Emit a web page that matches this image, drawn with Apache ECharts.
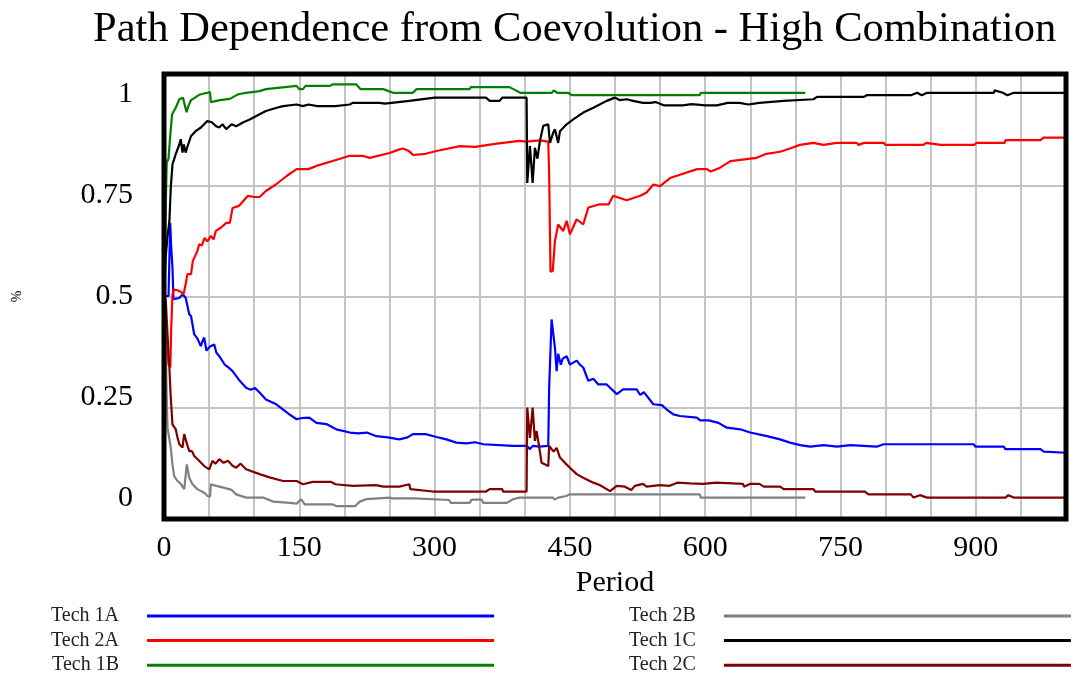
<!DOCTYPE html>
<html>
<head>
<meta charset="utf-8">
<title>Path Dependence from Coevolution - High Combination</title>
<script src="https://cdn.jsdelivr.net/npm/echarts@6/dist/echarts.min.js"></script>
<style>
  html, body { margin: 0; padding: 0; background: #fff; }
  #chart { width: 1073px; height: 679px; }
</style>
</head>
<body>
<div id="chart"></div>
<script>
// Market shares per period, [period, share]
const tech1A = [[0,0.5],[5,0.5],[6.9,0.681],[8,0.62],[9.4,0.57],[10.5,0.492],[17,0.495],[20.5,0.504],[24,0.496],[28,0.455],[30,0.45],[33.5,0.405],[37,0.395],[40.8,0.376],[43,0.39],[44.6,0.397],[47,0.365],[51,0.375],[55.7,0.38],[58,0.36],[61.3,0.351],[67,0.331],[72,0.322],[76,0.314],[84,0.29],[91,0.273],[96,0.268],[101,0.272],[106,0.261],[113,0.244],[124.5,0.232],[139,0.207],[147,0.195],[153,0.198],[161,0.199],[169,0.186],[180,0.183],[191,0.17],[206,0.162],[215,0.16],[225,0.162],[235.5,0.153],[248,0.15],[261,0.145],[263,0.143],[270,0.15],[276,0.158],[290,0.158],[302,0.151],[313,0.145],[324,0.137],[335,0.135],[345,0.138],[354,0.133],[387,0.129],[402,0.129],[405.7,0.121],[409,0.129],[416,0.127],[426,0.129],[427,0.273],[429.7,0.442],[431.5,0.446],[433.4,0.372],[435.3,0.314],[437,0.357],[440,0.33],[442,0.345],[446.4,0.351],[450,0.33],[457.5,0.34],[461,0.33],[464.8,0.323],[470.4,0.29],[476,0.295],[481.5,0.281],[490.8,0.281],[502,0.257],[509,0.269],[524,0.269],[528,0.255],[532,0.262],[542.5,0.232],[552,0.23],[557.4,0.219],[564.7,0.207],[572,0.203],[590.7,0.199],[594.4,0.192],[604,0.192],[614.7,0.186],[624,0.174],[638.8,0.17],[649.9,0.162],[668.4,0.153],[683,0.145],[694,0.137],[705.3,0.131],[716.4,0.127],[731.2,0.131],[746,0.127],[761,0.131],[790,0.127],[797.8,0.133],[897.7,0.133],[899.6,0.127],[931,0.127],[932.8,0.121],[971.7,0.121],[975.4,0.115],[1000,0.112]];

const tech2A = [[0,0.5],[2,0.5],[5,0.33],[7,0.323],[8,0.42],[9.4,0.504],[11,0.516],[15,0.514],[19,0.51],[21.6,0.504],[24,0.529],[26,0.554],[30,0.554],[32,0.587],[37,0.611],[39,0.628],[42,0.625],[45,0.644],[48,0.635],[52,0.649],[55,0.64],[57.5,0.661],[63,0.669],[69,0.681],[73,0.681],[76,0.718],[83,0.723],[93,0.748],[100,0.745],[106,0.745],[113,0.76],[124,0.776],[136,0.797],[147,0.814],[160,0.814],[169,0.822],[187,0.834],[206,0.847],[220,0.847],[228,0.842],[250,0.854],[261,0.863],[265,0.865],[272,0.858],[276,0.849],[290,0.852],[302,0.859],[328,0.871],[345,0.869],[369,0.877],[394,0.884],[402,0.882],[410,0.884],[417,0.885],[426,0.882],[427,0.8],[428.5,0.56],[431,0.562],[433.4,0.636],[437,0.677],[442.6,0.661],[446.4,0.686],[450,0.653],[457.5,0.69],[464.8,0.677],[470.4,0.719],[483,0.727],[493,0.727],[498,0.748],[513,0.737],[528,0.748],[535,0.756],[542.5,0.776],[550,0.772],[561,0.792],[572,0.8],[591,0.814],[602,0.814],[606,0.808],[616,0.817],[628,0.834],[657,0.842],[668,0.852],[683,0.857],[694,0.865],[705,0.874],[720,0.879],[731,0.874],[746,0.879],[768,0.879],[770,0.874],[776,0.879],[798,0.879],[800,0.874],[842,0.874],[845,0.879],[861,0.874],[898,0.874],[901,0.879],[932,0.879],[933,0.886],[972,0.886],[975,0.892],[1000,0.892]];

const tech1B = [[0,0.5],[1,0.62],[3,0.83],[5,0.84],[7,0.9],[9,0.95],[13,0.966],[17,0.987],[21,0.991],[23,0.993],[25,0.955],[27,0.97],[30,0.985],[39,0.998],[48,1.003],[51,1.005],[52,0.98],[62,0.985],[73,0.988],[82,0.999],[91,1.003],[106,1.007],[113,1.012],[147,1.02],[150,1.012],[154,1.012],[157,1.02],[184,1.02],[187,1.024],[213,1.024],[218,1.012],[243,1.012],[254,1.003],[276,1.003],[280,1.012],[339,1.012],[340,1.017],[383,1.017],[390,1.009],[395,1.003],[430,1.003],[432,1.009],[436,1.003],[448,1.003],[452,0.997],[594,0.997],[595,1.003],[711,1.003]];

const tech2B = [[0,0.5],[1,0.45],[2,0.372],[3,0.25],[3.9,0.174],[5.5,0.17],[7.5,0.125],[9.4,0.083],[11.3,0.054],[15,0.042],[18.6,0.035],[22.4,0.022],[24,0.02],[25.3,0.083],[28,0.05],[31.6,0.034],[37,0.022],[44.6,0.013],[48.3,0.005],[51,0.003],[52,0.034],[58,0.03],[67,0.025],[75,0.02],[80,0.009],[91,0.001],[110,0.001],[121,-0.009],[140,-0.012],[147,-0.014],[152,-0.003],[156,-0.016],[187,-0.016],[191,-0.02],[212,-0.02],[217,-0.009],[224,-0.003],[250,0.001],[253,-0.001],[278,-0.001],[280,-0.005],[316,-0.005],[318,-0.012],[339,-0.012],[341,-0.004],[352,-0.004],[354,-0.012],[380,-0.012],[387,-0.003],[394,0.001],[431,0.001],[433,-0.004],[437,0.001],[446,0.005],[450,0.009],[594,0.009],[595,0.001],[711,0.001]];

const tech1C = [[0,0.5],[2,0.6],[4,0.65],[6,0.686],[7.5,0.768],[9.4,0.826],[13,0.851],[17,0.875],[18.6,0.888],[20.5,0.855],[22,0.875],[24,0.855],[26,0.87],[30,0.896],[35,0.908],[41,0.917],[48,0.933],[50,0.937],[53,0.93],[58,0.92],[61,0.917],[65,0.925],[69,0.913],[75,0.925],[80,0.92],[88,0.93],[95,0.937],[106,0.95],[113,0.958],[125,0.966],[132,0.97],[147,0.974],[154,0.97],[160,0.974],[170,0.97],[190,0.97],[206,0.974],[209,0.978],[239,0.978],[245,0.976],[272,0.983],[300,0.991],[357,0.991],[361,0.983],[372,0.983],[375,0.991],[402,0.991],[402.7,0.78],[405.7,0.871],[408.7,0.78],[411.2,0.867],[414,0.84],[416.8,0.884],[420.4,0.921],[426,0.925],[427.9,0.879],[431.5,0.904],[433.4,0.913],[437,0.879],[439,0.908],[446.4,0.925],[453.7,0.937],[464.8,0.954],[476,0.966],[490.8,0.983],[500,0.991],[505,0.985],[513,0.987],[520,0.983],[531,0.978],[539,0.978],[545,0.98],[554,0.972],[565,0.972],[575,0.972],[585,0.975],[600,0.972],[613,0.972],[625,0.978],[638,0.978],[648,0.974],[660,0.978],[687,0.983],[720,0.987],[724,0.993],[776,0.993],[779,0.997],[828,0.997],[835,1.003],[840,0.997],[846,1.003],[920,1.003],[921,1.009],[930,1.003],[935,0.997],[942,1.003],[1000,1.003]];

const tech2C = [[0,0.5],[2,0.488],[3.9,0.405],[5.8,0.331],[7.5,0.248],[9.4,0.182],[13,0.17],[15,0.149],[17,0.133],[20.5,0.125],[22.4,0.158],[24,0.145],[26,0.13],[28,0.116],[31,0.116],[33.5,0.104],[39,0.092],[44.6,0.079],[50.2,0.071],[53.8,0.092],[57,0.085],[61.3,0.096],[66,0.087],[71,0.092],[76,0.08],[80,0.075],[85,0.085],[91,0.071],[106,0.059],[117,0.051],[132,0.042],[147,0.042],[154,0.034],[165,0.04],[185,0.04],[190,0.034],[209,0.03],[235,0.032],[243,0.028],[261,0.028],[272,0.034],[273,0.022],[298,0.016],[357,0.016],[361,0.022],[375,0.022],[376,0.016],[402,0.016],[402.7,0.224],[405.7,0.149],[408.7,0.224],[411.2,0.141],[413,0.166],[415.5,0.133],[418.6,0.087],[426,0.079],[427,0.129],[430,0.12],[432,0.115],[435.3,0.124],[439,0.1],[444.5,0.087],[450,0.075],[457.5,0.059],[464.8,0.05],[476,0.038],[483,0.032],[494.5,0.017],[502,0.03],[511,0.028],[518,0.02],[522,0.03],[531,0.035],[535,0.028],[550,0.032],[560,0.03],[565,0.034],[569,0.038],[583,0.036],[598,0.035],[612,0.038],[642,0.035],[643,0.028],[650,0.035],[660,0.035],[665,0.028],[683,0.028],[687,0.022],[720,0.022],[722,0.016],[777,0.016],[781,0.009],[828,0.009],[831,0.001],[838,0.007],[846,0.001],[933,0.001],[936,0.007],[942,0.001],[1000,0.001]];

const seriesNames = ['Tech 1A', 'Tech 2A', 'Tech 1B', 'Tech 2B', 'Tech 1C', 'Tech 2C'];
const seriesColors = ['#0000ff', '#ff0000', '#008000', '#808080', '#000000', '#800000'];
const seriesData = [tech1A, tech2A, tech1B, tech2B, tech1C, tech2C];

const periodLabels = [0, 150, 300, 450, 600, 750, 900];
const shareLabels = [0, 0.25, 0.5, 0.75, 1];

const FONT = '"Liberation Serif", "Times New Roman", serif';

const chart = echarts.init(document.getElementById('chart'), null, { renderer: 'canvas' });

// Two legend columns; text sits left of a long colour bar
const legendCommon = {
  orient: 'vertical',
  align: 'right',
  icon: 'rect',
  itemWidth: 347,
  itemHeight: 3,
  itemGap: 0.6,
  padding: 0,
  height: 76,
  selectedMode: false,
  textStyle: { fontFamily: FONT, fontSize: 20, color: '#222', lineHeight: 18, padding: [6, 23, 0, 0] }
};

chart.setOption({
  animation: false,
  backgroundColor: '#fff',
  title: {
    text: 'Path Dependence from Coevolution - High Combination',
    left: 93,
    top: 8,
    padding: 0,
    textStyle: { fontFamily: FONT, fontSize: 42.5, fontWeight: 'normal', color: '#000' }
  },
  legend: [
    Object.assign({}, legendCommon, { data: seriesNames.slice(0, 3), left: 51, top: 604 }),
    Object.assign({}, legendCommon, { data: seriesNames.slice(3), left: 629, top: 604 })
  ],
  grid: {
    left: 164, top: 74, width: 902, height: 445,
    show: true, borderColor: '#000', borderWidth: 5, z: 10
  },
  xAxis: {
    type: 'value', min: 0, max: 1000, interval: 50,
    name: 'Period', nameLocation: 'middle', nameGap: 40,
    nameTextStyle: { fontFamily: FONT, fontSize: 30, color: '#000' },
    axisLine: { show: false, onZero: false },
    axisTick: { show: false },
    axisLabel: { customValues: periodLabels, fontFamily: FONT, fontSize: 30, color: '#000', margin: 14 },
    splitLine: { show: true, lineStyle: { color: '#c4c4c4', width: 2 } }
  },
  yAxis: [
    {
      type: 'value', min: -0.052, max: 1.0495,
      name: '%', nameLocation: 'middle', nameGap: 140,
      nameTextStyle: { fontFamily: FONT, fontSize: 14, color: '#000' },
      axisLine: { show: false },
      axisTick: { show: false },
      axisLabel: { customValues: shareLabels, fontFamily: FONT, fontSize: 30, color: '#000', margin: 31,
                   padding: [4, 0, 0, 0] },
      splitLine: { show: false }
    },
    {
      type: 'value', min: 0, max: 4, interval: 1,
      axisLine: { show: false },
      axisTick: { show: false },
      axisLabel: { show: false },
      splitLine: { show: true, lineStyle: { color: '#c4c4c4', width: 2 } }
    }
  ],
  series: seriesNames.map((name, i) => ({
    name: name,
    type: 'line',
    data: seriesData[i],
    showSymbol: false,
    symbol: 'none',
    itemStyle: { color: seriesColors[i] },
    lineStyle: { color: seriesColors[i], width: 2.2 },
    emphasis: { disabled: true }
  }))
});
</script>
</body>
</html>
